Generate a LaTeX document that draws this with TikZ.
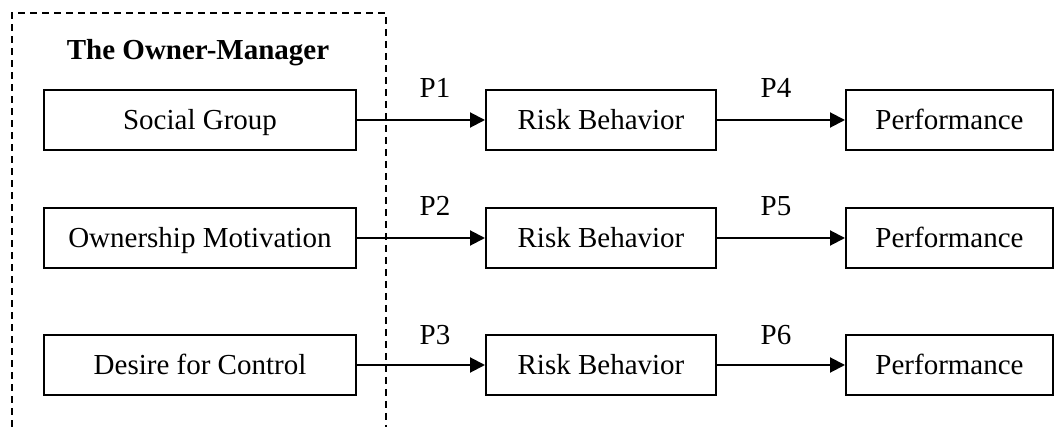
\documentclass[tikz,border=0pt]{standalone}
\usepackage{fontspec}
\setmainfont{Liberation Serif}
\usetikzlibrary{arrows.meta}
\tikzset{
  box/.style={draw, line width=2pt, minimum height=60pt, inner sep=0pt, text height=20pt, text depth=0pt, anchor=center},
  leftbox/.style={box, minimum width=312pt},
  riskbox/.style={box, minimum width=230pt},
  perfbox/.style={box, minimum width=207pt},
  conn/.style={line width=2pt, -{Triangle[length=15pt,width=15pt]}},
  grp/.style={line width=2pt, dash pattern=on 7pt off 5pt},
  lbl/.style={inner sep=0pt}
}
\begin{document}
\begin{tikzpicture}[x=1pt,y=-1pt,font=\fontsize{29}{34}\selectfont]
\useasboundingbox (0,0) rectangle (1055,427);
\coordinate (gbl) at (12,427);
\coordinate (gtl) at (12,13);
\coordinate (gtr) at (386,13);
\coordinate (gbr) at (386,427);
\draw[grp] (gbl) -- (gtl) -- (gtr) -- (gbr);
\node[lbl, text height=20pt, text depth=0pt, font=\fontsize{29}{34}\selectfont\bfseries] (title) at (198,50) {The Owner-Manager};

\node[leftbox] (sg) at (200,120) {Social Group};
\node[leftbox] (om) at (200,238) {Ownership Motivation};
\node[leftbox] (dc) at (200,365) {Desire for Control};

\node[riskbox] (r1) at (601,120) {Risk Behavior};
\node[riskbox] (r2) at (601,238) {Risk Behavior};
\node[riskbox] (r3) at (601,365) {Risk Behavior};

\node[perfbox] (f1) at (949.5,120) {Performance};
\node[perfbox] (f2) at (949.5,238) {Performance};
\node[perfbox] (f3) at (949.5,365) {Performance};

\draw[conn] (sg) -- (r1);
\draw[conn] (om) -- (r2);
\draw[conn] (dc) -- (r3);
\draw[conn] (r1) -- (f1);
\draw[conn] (r2) -- (f2);
\draw[conn] (r3) -- (f3);

\node[lbl] (p1) at (435,88) {P1};
\node[lbl] (p2) at (435,206) {P2};
\node[lbl] (p3) at (435,335) {P3};
\node[lbl] (p4) at (776,88) {P4};
\node[lbl] (p5) at (776,206) {P5};
\node[lbl] (p6) at (776,335) {P6};
\end{tikzpicture}
\end{document}
